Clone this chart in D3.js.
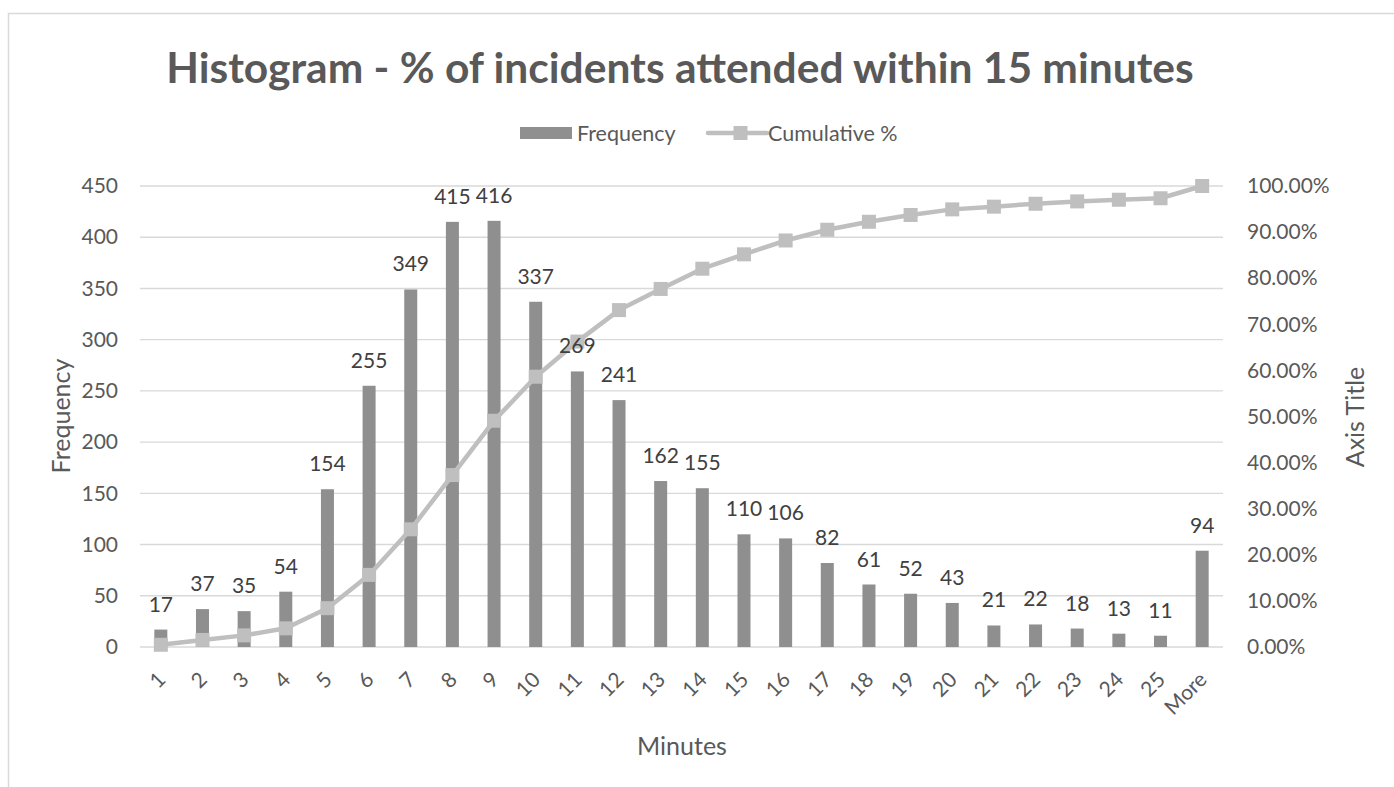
<!DOCTYPE html>
<html>
<head>
<meta charset="utf-8">
<script src="https://cdn.jsdelivr.net/npm/d3@7"></script>
<style>
  html, body { margin: 0; padding: 0; background: #fff; }
  svg { display: block; }
  text { font-family: "Lato", "Open Sans", sans-serif; }
</style>
</head>
<body>
<svg id="chart" width="1394" height="787"></svg>
<script>
// Response-time bins (minutes) with incident counts and running percentage
const categories = ["1","2","3","4","5","6","7","8","9","10","11","12","13","14","15","16","17","18","19","20","21","22","23","24","25","More"];
const frequency = [17,37,35,54,154,255,349,415,416,337,269,241,162,155,110,106,82,61,52,43,21,22,18,13,11,94];
const cumulativePct = [0.48,1.53,2.52,4.05,8.42,15.64,25.53,37.29,49.08,58.63,66.25,73.08,77.67,82.06,85.18,88.18,90.51,92.24,93.71,94.93,95.52,96.15,96.66,97.02,97.34,100.00];
const leftTicks = [0,50,100,150,200,250,300,350,400,450];
const rightTicks = [0,0.1,0.2,0.3,0.4,0.5,0.6,0.7,0.8,0.9,1.0];

const svg = d3.select("#chart");
const plot = { left: 140, right: 1223, top: 186, bottom: 647 };

const barColor = "#8f8f8f";
const lineColor = "#bfbfbf";
const gridColor = "#d9d9d9";
const axisText = "#595959";
const labelText = "#404040";
const tickFont = 21;
const legendFont = 21.5;
const axisTitleFont = 25;

// Outer chart frame
svg.append("rect")
  .attr("x", 8.5).attr("y", 13.5)
  .attr("width", 1420).attr("height", 800)
  .attr("fill", "#fff")
  .attr("stroke", gridColor).attr("stroke-width", 1.5);

const x = d3.scaleBand().domain(categories).range([plot.left, plot.right]);
const yLeft = d3.scaleLinear().domain([0, 450]).range([plot.bottom, plot.top]);
const yRight = d3.scaleLinear().domain([0, 1]).range([plot.bottom, plot.top]);
const cx = d => x(d) + x.bandwidth() / 2;

// Horizontal gridlines
svg.append("g")
  .selectAll("line")
  .data(leftTicks)
  .join("line")
  .attr("x1", plot.left).attr("x2", plot.right)
  .attr("y1", d => yLeft(d)).attr("y2", d => yLeft(d))
  .attr("stroke", gridColor).attr("stroke-width", 1.4);

// Left axis (counts)
const gLeft = svg.append("g")
  .attr("transform", `translate(${plot.left},0)`)
  .call(d3.axisLeft(yLeft).tickValues(leftTicks).tickSize(0).tickPadding(22));
gLeft.select(".domain").remove();
gLeft.selectAll("text")
  .attr("font-size", tickFont).attr("fill", axisText)
  .style("font-family", "Lato");

// Right axis (cumulative percentage)
const gRight = svg.append("g")
  .attr("transform", `translate(${plot.right},0)`)
  .call(d3.axisRight(yRight).tickValues(rightTicks).tickFormat(d3.format(".2%")).tickSize(0).tickPadding(24));
gRight.select(".domain").remove();
gRight.selectAll("text")
  .attr("font-size", tickFont).attr("fill", axisText)
  .style("font-family", "Lato");

// Bottom axis with slanted labels
const gBottom = svg.append("g")
  .attr("transform", `translate(0,${plot.bottom})`)
  .call(d3.axisBottom(x).tickSize(0));
gBottom.select(".domain").remove();
gBottom.selectAll("text")
  .attr("x", 0).attr("y", 0).attr("dy", 0)
  .attr("transform", "translate(6,34) rotate(-45)")
  .attr("text-anchor", "end")
  .attr("font-size", tickFont).attr("fill", axisText)
  .style("font-family", "Lato");

// Frequency bars
const barWidth = 13;
svg.append("g")
  .selectAll("rect")
  .data(categories)
  .join("rect")
  .attr("x", d => cx(d) - barWidth / 2)
  .attr("width", barWidth)
  .attr("y", (d, i) => yLeft(frequency[i]))
  .attr("height", (d, i) => yLeft(0) - yLeft(frequency[i]))
  .attr("fill", barColor);

// Cumulative % line with square markers
const line = d3.line()
  .x((d, i) => cx(categories[i]))
  .y(d => yRight(d / 100));
svg.append("path")
  .datum(cumulativePct)
  .attr("d", line)
  .attr("fill", "none")
  .attr("stroke", lineColor)
  .attr("stroke-width", 4.5)
  .attr("stroke-linejoin", "round");

const marker = 14;
svg.append("g")
  .selectAll("rect")
  .data(cumulativePct)
  .join("rect")
  .attr("x", (d, i) => cx(categories[i]) - marker / 2)
  .attr("y", d => yRight(d / 100) - marker / 2)
  .attr("width", marker).attr("height", marker)
  .attr("fill", lineColor);

// Count labels above each bar
svg.append("g")
  .selectAll("text")
  .data(categories)
  .join("text")
  .attr("x", d => cx(d))
  .attr("y", (d, i) => yLeft(frequency[i]) - 18)
  .attr("text-anchor", "middle")
  .attr("font-size", tickFont)
  .attr("fill", labelText)
  .text((d, i) => frequency[i]);

// Title
svg.append("text")
  .attr("x", 680).attr("y", 83)
  .attr("text-anchor", "middle")
  .attr("font-size", 42.5).attr("font-weight", "bold")
  .attr("fill", axisText)
  .text("Histogram - % of incidents attended within 15 minutes");

// Legend
const legend = svg.append("g");
legend.append("rect")
  .attr("x", 520).attr("y", 127).attr("width", 52).attr("height", 12)
  .attr("fill", barColor);
legend.append("text")
  .attr("x", 577).attr("y", 140.5)
  .attr("font-size", legendFont).attr("fill", axisText)
  .text("Frequency");
legend.append("line")
  .attr("x1", 708).attr("x2", 767).attr("y1", 133).attr("y2", 133)
  .attr("stroke", lineColor).attr("stroke-width", 4.5).attr("stroke-linecap", "round");
legend.append("rect")
  .attr("x", 740.5 - marker / 2).attr("y", 133 - marker / 2)
  .attr("width", marker).attr("height", marker)
  .attr("fill", lineColor);
legend.append("text")
  .attr("x", 768).attr("y", 140.5)
  .attr("font-size", legendFont).attr("fill", axisText)
  .text("Cumulative %");

// Axis titles
svg.append("text")
  .attr("transform", "translate(70,416) rotate(-90)")
  .attr("text-anchor", "middle")
  .attr("font-size", axisTitleFont).attr("fill", axisText)
  .text("Frequency");
svg.append("text")
  .attr("transform", "translate(1364,417) rotate(-90)")
  .attr("text-anchor", "middle")
  .attr("font-size", axisTitleFont).attr("fill", axisText)
  .text("Axis Title");
svg.append("text")
  .attr("x", 682).attr("y", 755)
  .attr("text-anchor", "middle")
  .attr("font-size", axisTitleFont).attr("fill", axisText)
  .text("Minutes");
</script>
</body>
</html>
